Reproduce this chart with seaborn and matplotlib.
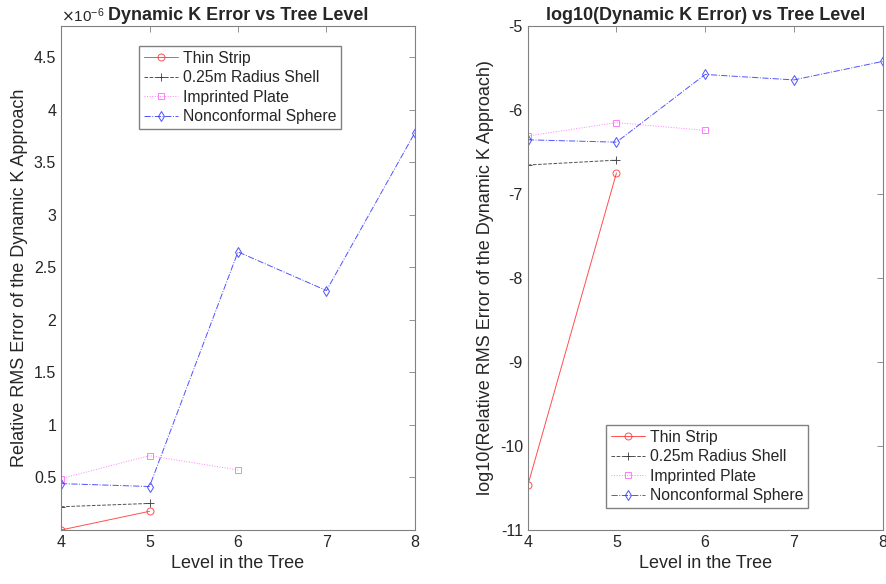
import numpy as np
import pandas as pd
import matplotlib
matplotlib.use("Agg")
import matplotlib.pyplot as plt
import seaborn as sns
from matplotlib.ticker import MultipleLocator, ScalarFormatter

# log10 of relative RMS error
thin_levels = [4, 5]
thin_log = [-10.47, -6.75]
shell_levels = [4, 5]
shell_log = [-6.655, -6.597]
plate_levels = [4, 5, 6]
plate_log = [-6.31, -6.15, -6.243]
sphere_levels = [4, 5, 6, 7, 8]
sphere_log = [-6.355, -6.383, -5.577, -5.642, -5.422]

names = ["Thin Strip", "0.25m Radius Shell", "Imprinted Plate", "Nonconformal Sphere"]

series = [
    (names[0], thin_levels, thin_log, dict(color="#ff3030", marker="o", linestyle="-", ms=5)),
    (names[1], shell_levels, shell_log, dict(color="#333333", marker="+", linestyle="--", ms=6)),
    (names[2], plate_levels, plate_log, dict(color="#ff66ff", marker="s", linestyle=":", ms=4.5)),
    (names[3], sphere_levels, sphere_log, dict(color="#3333ff", marker="d", linestyle="-.", ms=5.5)),
]


class MatlabFormatter(ScalarFormatter):
    # MATLAB-ish tick labels: 0.5, 1, 1.5 ... instead of 1.0, 2.0
    def _set_format(self):
        self.format = "%1.10g"


sns.set_style("white")
plt.rcParams["font.family"] = ["Liberation Sans", "DejaVu Sans"]
plt.rcParams["axes.unicode_minus"] = False
plt.rcParams["axes.edgecolor"] = "0.5"
plt.rcParams["axes.linewidth"] = 0.8

fig = plt.figure(figsize=(8.87, 5.84), dpi=100)
ax1 = fig.add_axes([0.0688, 0.0925, 0.399, 0.863])
ax2 = fig.add_axes([0.595, 0.0925, 0.400, 0.863])

for name, lv, lg, st in series:
    lv = np.array(lv)
    lg = np.array(lg)
    kw = dict(color=st["color"], marker=st["marker"], linestyle=st["linestyle"],
              markersize=st["ms"], markerfacecolor="none", markeredgecolor=st["color"],
              markeredgewidth=0.7, linewidth=0.7, alpha=0.85)
    sns.lineplot(x=lv, y=10.0 ** lg, ax=ax1, label=name, **kw)
    sns.lineplot(x=lv, y=lg, ax=ax2, label=name, **kw)

leg_kw = dict(loc="upper left", borderaxespad=0, fontsize=11.3, fancybox=False,
              framealpha=1, edgecolor="0.5", handlelength=2.2, labelspacing=0.28,
              borderpad=0.3, handletextpad=0.3)

# left panel
ax1.set_xlim(4, 8)
ax1.set_ylim(3.4e-11, 4.8e-6)
ax1.yaxis.set_major_locator(MultipleLocator(0.5e-6))
fmt = MatlabFormatter(useMathText=True)
fmt.set_powerlimits((0, 0))
ax1.yaxis.set_major_formatter(fmt)
ax1.set_title("Dynamic K Error vs Tree Level", fontsize=13, fontweight="bold", pad=4)
ax1.set_ylabel("Relative RMS Error of the Dynamic K Approach", fontsize=13, color="0.15")
ax1.legend(bbox_to_anchor=(0.22, 0.96), **leg_kw)

# right panel
ax2.set_xlim(4, 8)
ax2.set_ylim(-11, -5)
ax2.set_yticks(np.arange(-11, -4, 1))
ax2.set_title("log10(Dynamic K Error) vs Tree Level", fontsize=13, fontweight="bold", pad=4)
ax2.set_ylabel("log10(Relative RMS Error of the Dynamic K Approach)", fontsize=13, color="0.15")
ax2.legend(bbox_to_anchor=(0.22, 0.208), **leg_kw)

for ax in (ax1, ax2):
    ax.set_xticks([4, 5, 6, 7, 8])
    ax.set_xlabel("Level in the Tree", fontsize=13, color="0.15")
    ax.tick_params(direction="in", top=True, right=True, length=4, width=0.6,
                   color="0.5", labelcolor="0.15", labelsize=11.5)
    ax.yaxis.get_offset_text().set_fontsize(11)
    ax.yaxis.get_offset_text().set_color("0.15")

fig.savefig("out.png", dpi=100)
